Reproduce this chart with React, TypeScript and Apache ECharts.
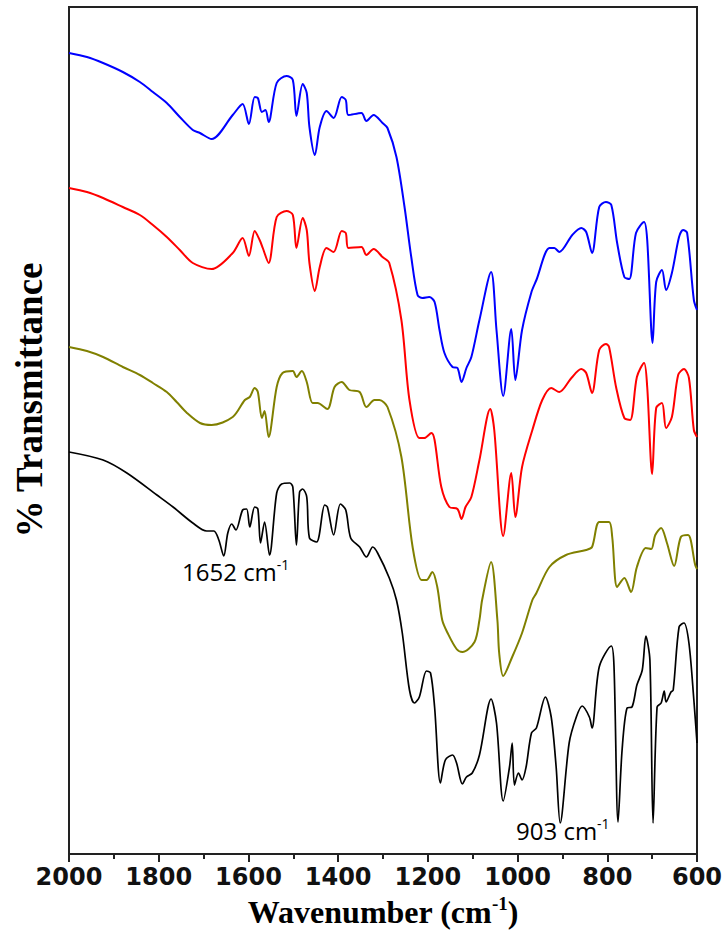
import React, { useEffect, useRef } from "react";
import * as echarts from "echarts";

// Wavenumber ticks (cm-1)
const xTicks = [2000, 1800, 1600, 1400, 1200, 1000, 800, 600];

// Spectra: [wavenumber, transmittance (a.u.)]
const blueSpectrum: [number, number][] = [
  [2000, 801], [1960, 797], [1924, 791], [1880, 782], [1842, 772], [1813, 762], [1782, 751],
  [1753, 737], [1724, 724], [1708, 721], [1682, 715],
  [1635, 739], [1613, 750], [1599, 730], [1586, 757], [1579, 756], [1570, 742], [1562, 744],
  [1555, 732], [1537, 771], [1515, 778], [1501, 774], [1493, 738], [1479, 770], [1470, 761],
  [1464, 727], [1452, 699], [1441, 727], [1426, 743], [1410, 736], [1392, 757], [1383, 754],
  [1377, 739], [1348, 741], [1337, 733], [1321, 739], [1301, 731], [1290, 726], [1270, 697],
  [1252, 647], [1237, 597], [1223, 559], [1212, 556], [1197, 557], [1185, 552], [1174, 524],
  [1163, 501], [1145, 487], [1134, 486], [1125, 472], [1114, 486], [1103, 497], [1085, 534],
  [1059, 582], [1047, 524], [1032, 458], [1014, 525], [1005, 474], [990, 524], [969, 562],
  [958, 574], [929, 606], [918, 606], [907, 602], [878, 619], [858, 626], [847, 622],
  [834, 601], [818, 647], [803, 652], [791, 649], [778, 611], [762, 577], [751, 575],
  [736, 621], [718, 632], [711, 614], [699, 511], [691, 572], [678, 584], [669, 564],
  [656, 581], [640, 617], [631, 624], [622, 621], [607, 554], [600, 544],
];

const redSpectrum: [number, number][] = [
  [2000, 666], [1960, 662], [1924, 656], [1880, 647], [1842, 639], [1813, 629], [1782, 617],
  [1753, 604], [1724, 591], [1682, 585], [1635, 601],
  [1613, 616], [1599, 598], [1586, 623], [1575, 614], [1568, 606], [1555, 591], [1537, 637],
  [1515, 643], [1501, 639], [1493, 606], [1479, 636], [1470, 624], [1464, 591], [1452, 563],
  [1441, 587], [1426, 606], [1410, 602], [1392, 623], [1383, 621], [1377, 606], [1348, 607],
  [1337, 599], [1321, 605], [1301, 597], [1286, 591], [1259, 534], [1241, 454], [1219, 416],
  [1208, 416], [1192, 421], [1185, 414], [1170, 367], [1152, 347], [1134, 345], [1125, 335],
  [1116, 347], [1103, 357], [1085, 394], [1061, 445], [1052, 424], [1032, 318], [1014, 381],
  [1005, 337], [990, 387], [967, 424], [945, 454], [925, 466], [907, 462], [880, 476],
  [858, 485], [847, 481], [834, 461], [818, 504], [803, 510], [796, 507], [780, 466],
  [762, 436], [749, 434], [734, 477], [718, 491], [711, 467], [700, 380], [691, 446],
  [678, 451], [669, 426], [656, 437], [642, 479], [629, 485], [618, 476], [607, 424], [600, 417],
];

const oliveSpectrum: [number, number][] = [
  [2000, 507], [1960, 503], [1924, 497], [1880, 487], [1842, 479], [1813, 471], [1782, 462],
  [1760, 452], [1737, 441], [1708, 431], [1682, 429],
  [1635, 437], [1608, 454], [1597, 457], [1586, 466], [1579, 462], [1570, 436], [1564, 443],
  [1555, 417], [1537, 467], [1524, 481], [1501, 483], [1493, 477], [1481, 483], [1470, 472],
  [1457, 451], [1446, 451], [1424, 445], [1408, 467], [1392, 472], [1375, 464], [1352, 462],
  [1337, 447], [1319, 454], [1308, 454], [1290, 447], [1259, 397], [1234, 307], [1214, 274],
  [1203, 274], [1190, 282], [1179, 267], [1168, 234], [1156, 221], [1136, 205], [1123, 202],
  [1096, 212], [1085, 234], [1079, 254], [1059, 292], [1045, 234], [1041, 201], [1032, 178],
  [1012, 197], [990, 221], [967, 254], [958, 261], [929, 287], [892, 299], [847, 304],
  [834, 307], [818, 332], [796, 332], [789, 317], [778, 267], [762, 276], [747, 262],
  [734, 287], [714, 306], [702, 305], [693, 319], [680, 326], [667, 311], [651, 288],
  [636, 317], [620, 319], [604, 289], [600, 285],
];

const blackSpectrum: [number, number][] = [
  [2000, 402], [1924, 394], [1871, 381], [1804, 359], [1768, 347], [1724, 331], [1693, 323],
  [1677, 323], [1666, 314], [1655, 298], [1646, 321], [1637, 330], [1628, 324], [1613, 344],
  [1604, 345], [1597, 327], [1586, 347], [1579, 345], [1573, 311], [1564, 332], [1553, 299],
  [1537, 361], [1526, 370], [1508, 371], [1501, 367], [1493, 309], [1486, 362], [1479, 365],
  [1470, 357], [1464, 316], [1448, 312], [1430, 349], [1424, 347], [1410, 319], [1395, 350],
  [1383, 344], [1372, 316], [1352, 307], [1337, 297], [1323, 307], [1312, 301], [1286, 276],
  [1270, 254], [1257, 221], [1241, 164], [1230, 151], [1219, 157], [1203, 183], [1194, 181],
  [1185, 147], [1172, 71], [1161, 94], [1145, 99], [1136, 91], [1123, 70], [1114, 77],
  [1101, 81], [1085, 99], [1059, 155], [1047, 131], [1032, 53], [1018, 87], [1012, 111],
  [1007, 69], [998, 81], [990, 74], [981, 87], [969, 121], [958, 126], [938, 157],
  [925, 137], [914, 87], [905, 31], [885, 111], [869, 137], [856, 148], [840, 137],
  [834, 126], [818, 187], [791, 208], [785, 187], [776, 32], [767, 104], [756, 146],
  [745, 147], [734, 169], [722, 184], [714, 218], [705, 194], [698, 31], [689, 147],
  [680, 151], [673, 163], [669, 152], [658, 162], [653, 164], [640, 227], [629, 231],
  [618, 211], [607, 154], [600, 111],
];

const annotationLabels = ["1652", "903"];
const yTitle = "% Transmittance";

export default function App() {
  const ref = useRef<HTMLDivElement>(null);

  useEffect(() => {
    const chart = echarts.init(ref.current!, null, { renderer: "svg" });
    const lineSeries = (name: string, data: [number, number][], color: string, width: number) => ({
      name,
      type: "line",
      data,
      showSymbol: false,
      symbol: "none",
      smooth: 0.3,
      lineStyle: { color, width },
      itemStyle: { color },
      z: 3,
    });
    const annRich = {
      a: { fontFamily: "Open Sans", fontSize: 24, color: "#000", lineHeight: 28 },
      s: { fontFamily: "Open Sans", fontSize: 14, color: "#000", verticalAlign: "top", lineHeight: 28 },
    };
    chart.setOption({
      animation: false,
      backgroundColor: "#fff",
      grid: {
        left: 69,
        right: 30,
        top: 7,
        bottom: 81,
        show: true,
        borderColor: "#222",
        borderWidth: 2,
        backgroundColor: "transparent",
      },
      xAxis: {
        type: "value",
        min: 600,
        max: 2000,
        interval: 200,
        inverse: true,
        name: "{t|Wavenumber (cm}{s|-1}{t|)}",
        nameLocation: "middle",
        nameGap: 40,
        nameTextStyle: {
          rich: {
            t: { fontFamily: "Liberation Serif", fontWeight: "bold", fontSize: 32, color: "#000", lineHeight: 36 },
            s: { fontFamily: "Liberation Serif", fontWeight: "bold", fontSize: 19, color: "#000", verticalAlign: "top", lineHeight: 36 },
          },
        },
        axisLine: { show: true, onZero: false, lineStyle: { color: "#222", width: 2 } },
        axisTick: { show: true, inside: false, length: 8, lineStyle: { color: "#222", width: 2 } },
        minorTick: { show: true, splitNumber: 2, length: 5, lineStyle: { color: "#222", width: 2 } },
        axisLabel: {
          margin: 11,
          fontFamily: "DejaVu Sans",
          fontWeight: "bold",
          fontSize: 24,
          color: "#111",
          formatter: (v: number) => (xTicks.includes(v) ? String(v) : ""),
        },
        splitLine: { show: false },
      },
      yAxis: {
        type: "value",
        min: 0,
        max: 847,
        axisLine: { show: false },
        axisTick: { show: false },
        axisLabel: { show: false },
        splitLine: { show: false },
      },
      series: [
        lineSeries("black", blackSpectrum, "#000000", 1.7),
        lineSeries("olive", oliveSpectrum, "#808000", 2),
        lineSeries("red", redSpectrum, "#FF0000", 2),
        lineSeries("blue", blueSpectrum, "#0000FF", 2),
      ],
      graphic: [
        {
          type: "text",
          x: 29,
          y: 400,
          rotation: Math.PI / 2,
          z: 10,
          style: {
            text: yTitle,
            fontFamily: "Liberation Serif",
            fontWeight: "bold",
            fontSize: 37,
            fill: "#000",
            align: "center",
            verticalAlign: "middle",
          },
        },
        {
          type: "text",
          left: 182,
          top: 557,
          z: 10,
          style: { text: `{a|${annotationLabels[0]} cm}{s|-1}`, rich: annRich },
        },
        {
          type: "text",
          left: 516,
          top: 816,
          z: 10,
          style: { text: `{a|${annotationLabels[1]} cm}{s|-1}`, rich: annRich },
        },
      ],
    });
    return () => chart.dispose();
  }, []);

  return (
    <div
      ref={ref}
      style={{ position: "fixed", left: 0, top: 0, width: 727, height: 935, background: "#fff" }}
    />
  );
}
